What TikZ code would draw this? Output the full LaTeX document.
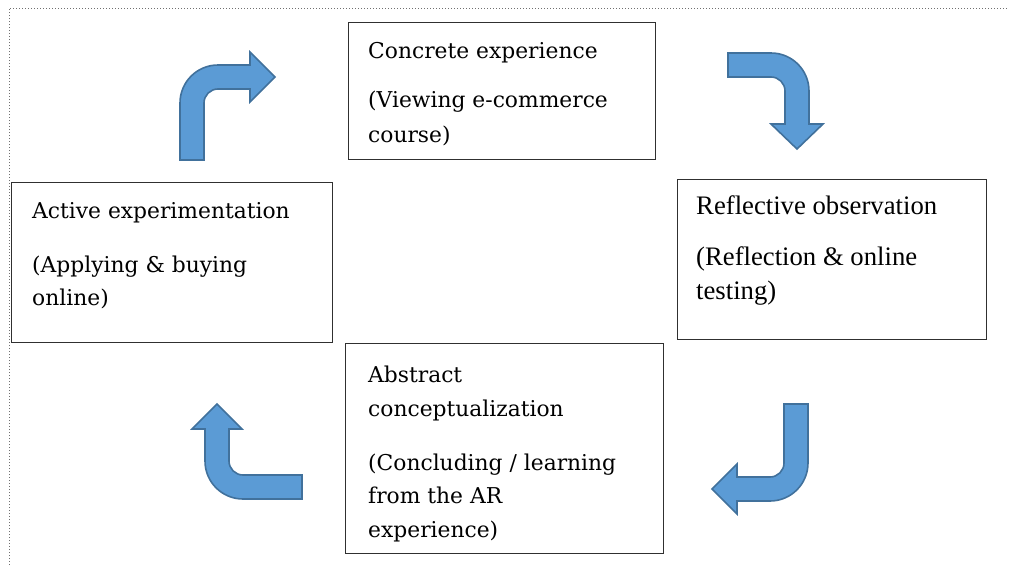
\documentclass[tikz,border=0pt]{standalone}
\usepackage{fontspec}
\newfontfamily\camfont{DejaVu Serif}
\newfontfamily\tmsfont{Liberation Serif}
\definecolor{arrowfill}{HTML}{5B9BD5}
\definecolor{arrowline}{HTML}{41719C}
\definecolor{boxline}{HTML}{303030}
\definecolor{borderdots}{HTML}{707070}
\begin{document}
\begin{tikzpicture}[x=1pt,y=-1pt,
  box/.style={draw=boxline, line width=1.3pt, anchor=north west, inner sep=0pt},
  bluearrow/.style={fill=arrowfill, draw=arrowline, line width=1.6pt, line join=miter},
  txt/.style={anchor=base west, inner sep=0pt, font=\camfont\fontsize{21.8}{26}\selectfont},
  txtt/.style={anchor=base west, inner sep=0pt, font=\tmsfont\fontsize{26.7}{30}\selectfont}]
\useasboundingbox (0,0) rectangle (1009,565);
\draw[borderdots, dotted, line width=1pt] (9,565) -- (9,8) -- (1009,8);

% boxes
\node[box, minimum width=307pt, minimum height=137pt] (ce) at (348,22) {};
\node[box, minimum width=321pt, minimum height=160pt] (ae) at (11,182) {};
\node[box, minimum width=309pt, minimum height=160pt] (ro) at (677,179) {};
\node[box, minimum width=318pt, minimum height=210pt] (ac) at (345,343) {};

% texts
\node[txt] (ce1) at (368,58) {Concrete experience};
\node[txt] (ce2) at (368,107) {(Viewing e-commerce};
\node[txt] (ce3) at (368,142) {course)};

\node[txt] (ae1) at (32,218) {Active experimentation};
\node[txt] (ae2) at (32,272) {(Applying \& buying};
\node[txt] (ae3) at (32,305) {online)};

\node[txtt] (ro1) at (696,214) {Reflective observation};
\node[txtt] (ro2) at (696,265) {(Reflection \& online};
\node[txtt] (ro3) at (696,299) {testing)};

\node[txt] (ac1) at (368,382) {Abstract};
\node[txt] (ac2) at (368,416) {conceptualization};
\node[txt] (ac3) at (368,470) {(Concluding / learning};
\node[txt] (ac4) at (368,503) {from the AR};
\node[txt] (ac5) at (368,537) {experience)};

% bent block arrows
\draw[bluearrow] (180,160) -- (180,103) .. controls (180,82) and (197,65) .. (218,65)
  -- (250,65) -- (250,52) -- (275,77) -- (250,102) -- (250,89) -- (218,89)
  .. controls (210.3,89) and (204,95.3) .. (204,103) -- (204,160) -- cycle;

\draw[bluearrow] (728,53) -- (771,53) .. controls (792,53) and (809,70) .. (809,91)
  -- (809,124) -- (823,124) -- (797,149) -- (771,124) -- (785,124) -- (785,91)
  .. controls (785,83.3) and (778.7,77) .. (771,77) -- (728,77) -- cycle;

\draw[bluearrow] (784,404) -- (808,404) -- (808,463) .. controls (808,484) and (791,501) .. (770,501)
  -- (737,501) -- (737,514) -- (712,489) -- (737,464) -- (737,477) -- (770,477)
  .. controls (777.7,477) and (784,470.7) .. (784,463) -- cycle;

\draw[bluearrow] (302,475) -- (302,499) -- (243,499) .. controls (222,499) and (205,482) .. (205,461)
  -- (205,429) -- (192,429) -- (217,404) -- (242,429) -- (229,429) -- (229,461)
  .. controls (229,468.7) and (235.3,475) .. (243,475) -- cycle;
\end{tikzpicture}
\end{document}
